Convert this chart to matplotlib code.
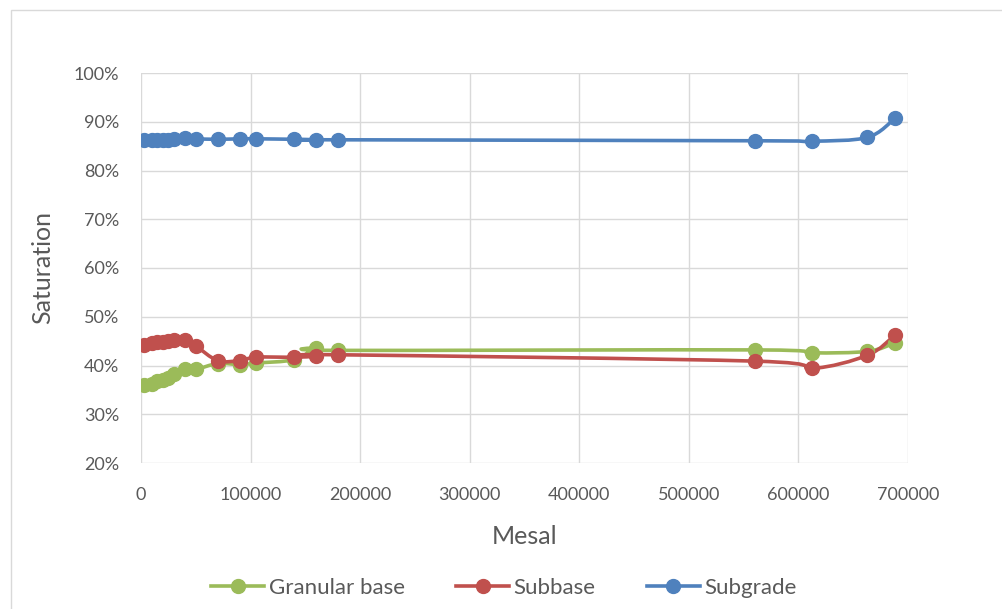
import numpy as np
import matplotlib.pyplot as plt
from matplotlib.path import Path
from matplotlib.patches import PathPatch, Rectangle
from matplotlib.lines import Line2D
from matplotlib.ticker import FuncFormatter, MultipleLocator

plt.rcParams['font.family'] = ['Lato', 'DejaVu Sans']

# data
mesal = [3000, 10000, 15000, 20000, 25000, 30000, 40000, 50000, 70000,
         90000, 105000, 140000, 160000, 180000, 560000, 612000, 663000, 688000]
granular_base = [36.0, 36.3, 36.8, 37.0, 37.4, 38.2, 39.2, 39.2, 40.4,
                 40.2, 40.5, 41.2, 43.5, 43.1, 43.2, 42.6, 42.9, 44.6]
subbase = [44.2, 44.6, 44.8, 44.9, 45.0, 45.3, 45.2, 44.0, 41.0,
           41.0, 41.7, 41.7, 41.9, 42.2, 40.9, 39.4, 42.1, 46.2]
subgrade = [86.3, 86.3, 86.3, 86.3, 86.3, 86.4, 86.6, 86.5, 86.4,
            86.5, 86.5, 86.4, 86.3, 86.3, 86.1, 86.0, 86.8, 90.7]

series = [('Granular base', granular_base, '#9BBB59'),
          ('Subbase', subbase, '#C0504D'),
          ('Subgrade', subgrade, '#4F81BD')]

GRID = '#D9D9D9'
TEXT = '#595959'


def smooth_path(x, y):
    """Excel-style smoothed line: cubic Bezier through every point."""
    pts = np.column_stack([x, y]).astype(float)
    ext = np.vstack([pts[0], pts, pts[-1]])
    verts = [pts[0]]
    codes = [Path.MOVETO]
    for i in range(len(pts) - 1):
        p0, p1, p2, p3 = ext[i], ext[i + 1], ext[i + 2], ext[i + 3]
        c1 = p1 + (p2 - p0) / 6.0
        c2 = p2 - (p3 - p1) / 6.0
        verts += [c1, c2, p2]
        codes += [Path.CURVE4] * 3
    return Path(verts, codes)


fig = plt.figure(figsize=(10.02, 6.09), dpi=100)
ax = fig.add_axes([141 / 1002, 1 - 463 / 609, 767 / 1002, 390 / 609])

# outer chart frame (runs off the right and bottom of the picture)
fig.patches.append(Rectangle((10.5 / 1002, -0.2), 1.2, 1 - 10.5 / 609 + 0.2,
                             transform=fig.transFigure, fill=False,
                             edgecolor=GRID, linewidth=1.0))

for name, vals, color in series:
    ax.add_patch(PathPatch(smooth_path(mesal, vals), fill=False,
                           edgecolor=color, linewidth=2.6,
                           capstyle='round', joinstyle='round'))
    ax.plot(mesal, vals, linestyle='none', marker='o', markersize=10,
            color=color)

ax.set_xlim(0, 700000)
ax.set_ylim(20, 100)
ax.xaxis.set_major_locator(MultipleLocator(100000))
ax.yaxis.set_major_locator(MultipleLocator(10))
ax.yaxis.set_major_formatter(FuncFormatter(lambda v, p: f'{v:.0f}%'))
ax.grid(True, color=GRID, linewidth=1.0)
ax.set_axisbelow(True)
for s in ax.spines.values():
    s.set_visible(False)
ax.tick_params(length=0, labelsize=13, labelcolor=TEXT)
ax.tick_params(axis='y', pad=15.5)
ax.tick_params(axis='x', pad=17.5)

fig.text(525 / 1002, 1 - 537 / 609, 'Mesal', ha='center', va='center',
         fontsize=18, color=TEXT)
fig.text(43 / 1002, 1 - 267 / 609, 'Saturation', ha='center', va='center',
         rotation=90, fontsize=18, color=TEXT)

handles = [Line2D([0], [0], color=c, linewidth=2.6, marker='o', markersize=10)
           for _, _, c in series]
fig.legend(handles, [n for n, _, _ in series], ncol=3, frameon=False,
           loc='center', bbox_to_anchor=(504 / 1002, 1 - 588 / 609),
           fontsize=16, labelcolor=TEXT, handlelength=2.4, handletextpad=0.2,
           columnspacing=2.3, borderpad=0)

plt.savefig('out.png', dpi=100)
